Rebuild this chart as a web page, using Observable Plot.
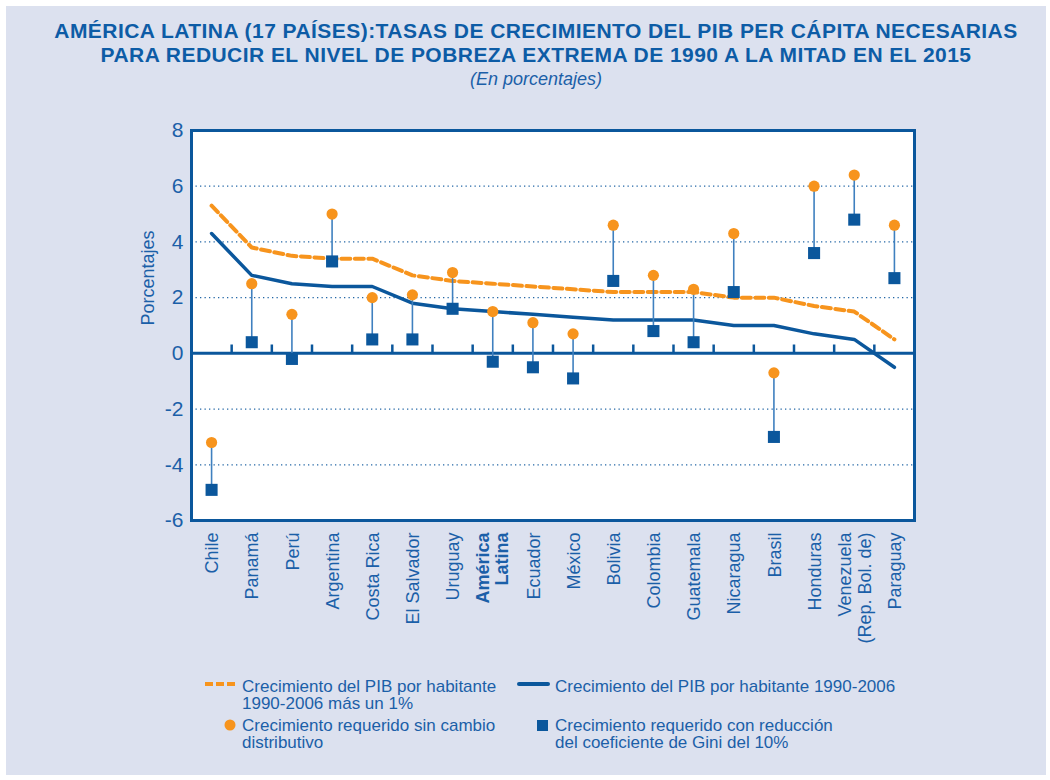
<!DOCTYPE html>
<html>
<head>
<meta charset="utf-8">
<script src="https://cdn.jsdelivr.net/npm/d3@7"></script>
<script src="https://cdn.jsdelivr.net/npm/@observablehq/plot@0.6"></script>
<style>
  html, body { margin: 0; padding: 0; background: #ffffff; }
  body { width: 1050px; height: 780px; position: relative; overflow: hidden; font-family: "Liberation Sans", Arial, sans-serif; }
  #box { position: absolute; left: 6px; top: 6px; width: 1040px; height: 769px; background: #dce1ef; }
  .title { position: absolute; left: 0; width: 1072px; text-align: center; color: #0d5ca6; font-weight: bold; font-size: 21px; letter-spacing: 0.45px; line-height: 24px; white-space: nowrap; }
  #sub { position: absolute; left: 0; width: 1072px; text-align: center; color: #1b5fa8; font-style: italic; font-size: 18px; line-height: 20px; top: 69px; }
  #chart { position: absolute; left: 0; top: 100px; }
  .leg { position: absolute; color: #1b5fa8; font-size: 17px; line-height: 17px; white-space: nowrap; }
  #legsw { position: absolute; left: 0; top: 660px; }
</style>
</head>
<body>
<div id="box"></div>
<div class="title" id="t1" style="top:19px">AMÉRICA LATINA (17 PAÍSES):TASAS DE CRECIMIENTO DEL PIB PER CÁPITA NECESARIAS</div>
<div class="title" id="t2" style="top:43px">PARA REDUCIR EL NIVEL DE POBREZA EXTREMA DE 1990 A LA MITAD EN EL 2015</div>
<div id="sub">(En porcentajes)</div>
<div id="chart"></div>
<svg id="legsw" width="1050" height="100">
  <line x1="205" x2="236" y1="24" y2="24" stroke="#f7941d" stroke-width="4" stroke-dasharray="8,3"></line>
  <line x1="519" x2="548" y1="24" y2="24" stroke="#0b579c" stroke-width="4" stroke-linecap="round"></line>
  <circle cx="230" cy="65" r="5.5" fill="#f7941d"></circle>
  <rect x="537" y="60" width="11" height="11" fill="#0b579c"></rect>
</svg>
<div class="leg" style="left:242px; top:678px">Crecimiento del PIB por habitante<br>1990-2006 más un 1%</div>
<div class="leg" style="left:555px; top:678px">Crecimiento del PIB por habitante 1990-2006</div>
<div class="leg" style="left:242px; top:717px">Crecimiento requerido sin cambio<br>distributivo</div>
<div class="leg" style="left:555px; top:717px">Crecimiento requerido con reducción<br>del coeficiente de Gini del 10%</div>
<script>
// ---- data ----
const paises = ["Chile", "Panamá", "Perú", "Argentina", "Costa Rica", "El Salvador", "Uruguay",
  "América\nLatina", "Ecuador", "México", "Bolivia", "Colombia", "Guatemala", "Nicaragua",
  "Brasil", "Honduras", "Venezuela\n(Rep. Bol. de)", "Paraguay"];
const pibMasUno = [5.3, 3.8, 3.5, 3.4, 3.4, 2.8, 2.6, 2.5, 2.4, 2.3, 2.2, 2.2, 2.2, 2.0, 2.0, 1.7, 1.5, 0.5];
const pib = [4.3, 2.8, 2.5, 2.4, 2.4, 1.8, 1.6, 1.5, 1.4, 1.3, 1.2, 1.2, 1.2, 1.0, 1.0, 0.7, 0.5, -0.5];
const sinCambio = [-3.2, 2.5, 1.4, 5.0, 2.0, 2.1, 2.9, 1.5, 1.1, 0.7, 4.6, 2.8, 2.3, 4.3, -0.7, 6.0, 6.4, 4.6];
const conGini = [-4.9, 0.4, -0.2, 3.3, 0.5, 0.5, 1.6, -0.3, -0.5, -0.9, 2.6, 0.8, 0.4, 2.2, -3.0, 3.6, 4.8, 2.7];
const yTicks = [-6, -4, -2, 0, 2, 4, 6, 8];
const gridTicks = [-4, -2, 2, 4, 6];
const destacado = "América\nLatina";

// ---- table ----
const rows = paises.map((p, i) => ({
  i, pais: p, pibMasUno: pibMasUno[i], pib: pib[i], sinCambio: sinCambio[i], conGini: conGini[i]
}));
const limites = rows.slice(1).map(r => r.i - 0.5);

const azul = "#0b579c";
const texto = "#1b5fa8";
const naranja = "#f7941d";

const chart = Plot.plot({
  width: 1050,
  height: 560,
  marginTop: 30,
  marginBottom: 140,
  marginLeft: 191,
  marginRight: 136,
  style: { background: "transparent", color: texto, fontFamily: "'Liberation Sans', Arial, sans-serif", overflow: "visible" },
  x: { domain: [-0.5, paises.length - 0.5], axis: null },
  y: { domain: [-6, 8], axis: null },
  marks: [
    Plot.frame({ fill: "white" }),
    Plot.ruleY(gridTicks, { stroke: azul, strokeWidth: 1.3, strokeDasharray: "1.3,3.2", strokeOpacity: 0.9 }),
    Plot.ruleY([0], { stroke: azul, strokeWidth: 3 }),
    Plot.ruleX(limites, { x: d => d, y1: 0, y2: 0.3, stroke: azul, strokeWidth: 2.5 }),
    Plot.line(rows, { x: "i", y: "pibMasUno", stroke: naranja, strokeWidth: 4, strokeDasharray: "9,4.5", strokeLinejoin: "round" }),
    Plot.line(rows, { x: "i", y: "pib", stroke: azul, strokeWidth: 3.5, strokeLinejoin: "round" }),
    Plot.ruleX(rows, { x: "i", y1: "sinCambio", y2: "conGini", stroke: "#3f80bf", strokeWidth: 1.6 }),
    Plot.dot(rows, { x: "i", y: "sinCambio", r: 5.6, fill: naranja }),
    Plot.dot(rows, { x: "i", y: "conGini", symbol: "square", r: 6.8, fill: azul }),
    Plot.axisY(yTicks, { tickSize: 0, tickPadding: 8, fontSize: 21, label: null, tickFormat: d => String(d) }),
    Plot.text(["Porcentajes"], { frameAnchor: "left", rotate: -90, dx: -43, fontSize: 18, fill: texto }),
    Plot.text(rows.filter(r => r.pais !== destacado), {
      x: "i", text: "pais", frameAnchor: "bottom", dy: 12, rotate: -90,
      textAnchor: "end", lineAnchor: "middle", lineHeight: 1.15, fontSize: 18, fill: texto
    }),
    Plot.text(rows.filter(r => r.pais === destacado), {
      x: "i", text: "pais", frameAnchor: "bottom", dy: 12, rotate: -90,
      textAnchor: "end", lineAnchor: "middle", lineHeight: 1.05, fontSize: 18, fontWeight: "bold", fill: texto
    }),
    Plot.frame({ stroke: azul, strokeWidth: 3 })
  ]
});
document.getElementById("chart").appendChild(chart);
</script>
</body>
</html>
